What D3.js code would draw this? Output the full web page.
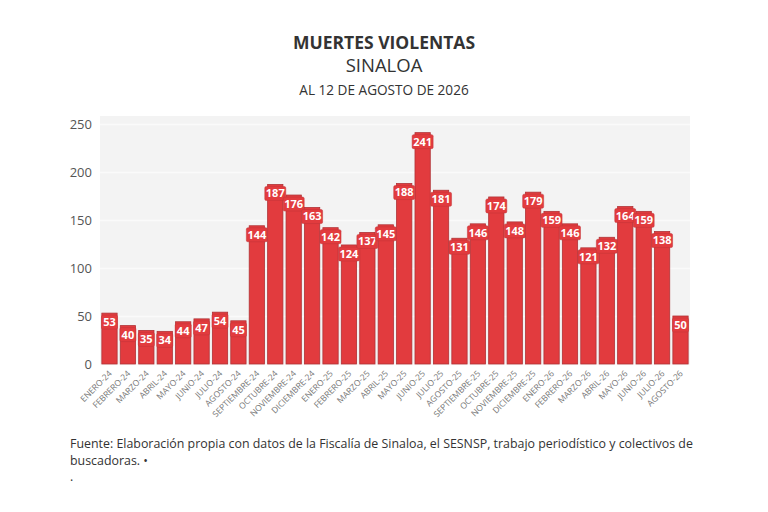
<!DOCTYPE html>
<html>
<head>
<meta charset="utf-8">
<script src="https://cdn.jsdelivr.net/npm/d3@7"></script>
<style>
  body { margin: 0; background: #fff; }
  svg { display: block; font-family: "Open Sans", sans-serif; }
</style>
</head>
<body>
<div id="chart"></div>
<script>
/* DATA */
const months = ["ENERO-24","FEBRERO-24","MARZO-24","ABRIL-24","MAYO-24","JUNIO-24","JULIO-24","AGOSTO-24",
  "SEPTIEMBRE-24","OCTUBRE-24","NOVIEMBRE-24","DICIEMBRE-24","ENERO-25","FEBRERO-25","MARZO-25","ABRIL-25",
  "MAYO-25","JUNIO-25","JULIO-25","AGOSTO-25","SEPTIEMBRE-25","OCTUBRE-25","NOVIEMBRE-25","DICIEMBRE-25",
  "ENERO-26","FEBRERO-26","MARZO-26","ABRIL-26","MAYO-26","JUNIO-26","JULIO-26","AGOSTO-26"];
const deaths = [53,40,35,34,44,47,54,45,144,187,176,163,142,124,137,145,188,241,181,131,146,174,148,179,159,146,121,132,164,159,138,50];
const yTicks = [0,50,100,150,200,250];

/* CONSTANTS */
const width = 768;
const height = 512;
const plot = {left: 100, right: 690, top: 116, bottom: 364};

const svg = d3.select("#chart")
  .append("svg")
  .attr("width", width)
  .attr("height", height)

/* SCALES */
const xScale = d3.scaleBand()
  .domain(months)
  .range([plot.left, plot.right])
  .paddingInner(.17)
  .paddingOuter(.1);

const yScale = d3.scaleLinear()
  .domain([0, 250])
  .range([plot.bottom, 124]);

/* TITLES */
svg.append("text")
  .attr("x", 384).attr("y", 49)
  .attr("text-anchor", "middle")
  .attr("font-size", 17.5).attr("font-weight", 700)
  .attr("fill", "#333")
  .text("MUERTES VIOLENTAS")
svg.append("text")
  .attr("x", 384).attr("y", 72)
  .attr("text-anchor", "middle")
  .attr("font-size", 18.5)
  .attr("fill", "#333")
  .text("SINALOA")
svg.append("text")
  .attr("x", 384).attr("y", 95)
  .attr("text-anchor", "middle")
  .attr("font-size", 13.6)
  .attr("fill", "#333")
  .text("AL 12 DE AGOSTO DE 2026")

/* PLOT BACKGROUND + GRID */
svg.append("rect")
  .attr("x", plot.left).attr("y", plot.top)
  .attr("width", plot.right - plot.left)
  .attr("height", plot.bottom - plot.top)
  .attr("fill", "#f3f3f3")

const yAxis = svg.append("g")
  .attr("transform", `translate(${plot.left},0)`)
  .call(d3.axisLeft(yScale).tickValues(yTicks).tickSize(-(plot.right - plot.left)).tickPadding(8))
yAxis.select(".domain").remove()
yAxis.selectAll("line").attr("stroke", "#fafafa").attr("stroke-width", 1.5)
yAxis.selectAll("text")
  .attr("fill", "#555")
  .attr("font-size", 13)
  .attr("font-family", "'Open Sans', sans-serif")

/* BARS */
svg.selectAll(".bar")
  .data(deaths)
  .join("rect")
  .attr("class", "bar")
  .attr("x", (d, i) => xScale(months[i]))
  .attr("y", d => yScale(d))
  .attr("width", xScale.bandwidth())
  .attr("height", d => plot.bottom - yScale(d))
  .attr("fill", "#e23b3e")
  .attr("stroke", "#b03236")
  .attr("stroke-width", 0.8)

/* VALUE LABELS */
const labels = svg.selectAll(".lab")
  .data(deaths)
  .join("g")
  .attr("class", "lab")
  .attr("transform", (d, i) => `translate(${xScale(months[i]) + xScale.bandwidth() / 2},${yScale(d) + 9})`)

labels.append("rect")
  .attr("x", d => d >= 100 ? -10.5 : -8)
  .attr("y", -7)
  .attr("width", d => d >= 100 ? 21 : 16)
  .attr("height", 14)
  .attr("rx", 1.5)
  .attr("fill", "#e23b3e")
  .attr("stroke", "#c23438")
  .attr("stroke-width", 0.5)

labels.append("text")
  .attr("text-anchor", "middle")
  .attr("dy", "0.36em")
  .attr("font-size", 11)
  .attr("font-weight", 700)
  .attr("fill", "#fff")
  .text(d => d)

/* X AXIS LABELS */
svg.selectAll(".xlab")
  .data(months)
  .join("text")
  .attr("class", "xlab")
  .attr("transform", d => `translate(${xScale(d) + xScale.bandwidth() / 2 + 3},${plot.bottom + 10}) rotate(-45)`)
  .attr("text-anchor", "end")
  .attr("font-size", 8.5)
  .attr("fill", "#777")
  .text(d => d)

/* SOURCE */
const src = svg.append("text")
  .attr("font-size", 12.4)
  .attr("fill", "#333")
src.append("tspan").attr("x", 70).attr("y", 448)
  .text("Fuente: Elaboración propia con datos de la Fiscalía de Sinaloa, el SESNSP, trabajo periodístico y colectivos de")
src.append("tspan").attr("x", 70).attr("y", 465)
  .text("buscadoras. •")
src.append("tspan").attr("x", 70).attr("y", 481)
  .text(".")
</script>
</body>
</html>
